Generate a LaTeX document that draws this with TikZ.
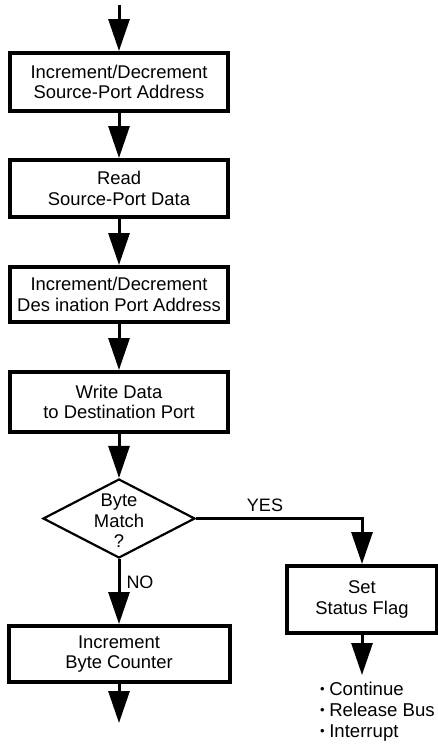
\documentclass[tikz,border=0pt]{standalone}
\usepackage{fontspec}
\setmainfont{Liberation Sans}
\usetikzlibrary{arrows.meta,shapes.geometric}
\newcommand{\smallbul}{\raisebox{1.8pt}{\fontsize{13}{13}\selectfont\textbullet}\hspace{4.5pt}}
\begin{document}
\begin{tikzpicture}[x=1pt,y=-1pt,
  every node/.style={font=\fontsize{18.4}{20.5}\selectfont, align=center, inner sep=0pt},
  procbox/.style={draw, line width=4pt, rectangle},
  flow/.style={line width=3pt, -{Triangle[length=32pt,width=21pt]}},
  lbl/.style={font=\fontsize{18}{20}\selectfont}
]
\useasboundingbox (0,0) rectangle (438,745);
\coordinate (start) at (119,5);
\node[procbox, minimum width=218pt, minimum height=58pt] (b1) at (119,82) {Increment/Decrement\\Source-Port Address};
\node[procbox, minimum width=218pt, minimum height=57pt] (b2) at (119,188.5) {Read\\Source-Port Data};
\node[procbox, minimum width=218pt, minimum height=55pt] (b3) at (119,294.5) {Increment/Decrement\\Des ination Port Address};
\node[procbox, minimum width=218pt, minimum height=60pt] (b4) at (119,402) {Write Data\\to Destination Port};
\node[draw, diamond, line width=2.2pt, minimum width=152pt, minimum height=79pt] (dia) at (119,518.5) {};
\node (diatext) at (119,521) {Byte\\Match\\?};
\node[procbox, minimum width=150pt, minimum height=67pt] (flag) at (362,599.5) {Set\\Status Flag};
\node[procbox, minimum width=221pt, minimum height=56pt] (cnt) at (119,654) {Increment\\Byte Counter};
\coordinate (endL) at (119,723);
\coordinate (endR) at (362,675);
\node[anchor=north west, align=left, font=\fontsize{18.6}{21}\selectfont] (list) at (320,682)
  {\smallbul Continue\\\smallbul Release Bus\\\smallbul Interrupt};
\node[lbl] (yes) at (265,505) {YES};
\node[lbl] (no) at (140,582) {NO};
\draw[flow] (start) -- (b1.north);
\draw[flow] (b1.south) -- (b2.north);
\draw[flow] (b2.south) -- (b3.north);
\draw[flow] (b3.south) -- (b4.north);
\draw[flow] (b4.south) -- (dia.north);
\draw[flow] (dia.south) -- (cnt.north);
\draw[flow] (dia.east) -| (flag.north);
\draw[flow] (flag.south) -- (endR);
\draw[flow] (cnt.south) -- (endL);
\end{tikzpicture}
\end{document}
